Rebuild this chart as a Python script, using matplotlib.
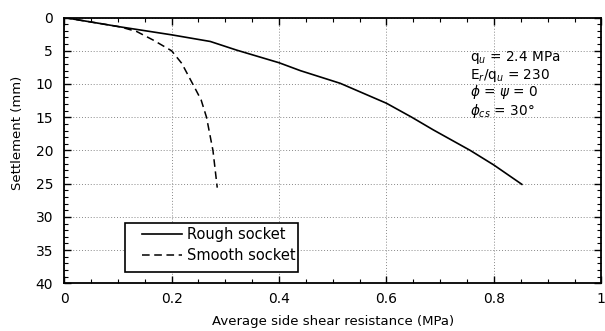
import matplotlib
matplotlib.use("Agg")
import matplotlib.pyplot as plt
from matplotlib.ticker import MultipleLocator
from matplotlib.patches import Rectangle

# Side shear resistance (MPa) vs settlement (mm)
rough_x = [0.0, 0.067, 0.104, 0.2, 0.272, 0.321, 0.4, 0.44, 0.514, 0.6, 0.647, 0.687, 0.756, 0.8, 0.852]
rough_y = [0.0, 0.9, 1.4, 2.6, 3.6, 4.9, 6.8, 8.0, 9.9, 12.9, 15.0, 16.9, 20.0, 22.2, 25.1]

smooth_x = [0.0, 0.067, 0.104, 0.135, 0.166, 0.2, 0.219, 0.244, 0.255, 0.265, 0.277, 0.285]
smooth_y = [0.0, 0.9, 1.4, 2.1, 3.4, 5.0, 6.9, 10.7, 12.4, 15.0, 20.0, 25.6]

x_ticks = [0, 0.2, 0.4, 0.6, 0.8, 1]
x_tick_labels = ["0", "0.2", "0.4", "0.6", "0.8", "1"]
y_ticks = [0, 5, 10, 15, 20, 25, 30, 35, 40]

params = [r"q$_{u}$ = 2.4 MPa", r"E$_{r}$/q$_{u}$ = 230", r"$\phi$ = $\psi$ = 0", r"$\phi_{cs}$ = 30°"]

plt.rcParams["font.family"] = ["DejaVu Sans"]
plt.rcParams["mathtext.fontset"] = "dejavusans"

fig = plt.figure(figsize=(6.05, 3.31), dpi=100)
ax = fig.add_axes([0.106, 0.144, 0.888, 0.803])

ax.plot(rough_x, rough_y, color="black", lw=1.2, label="Rough socket")
ax.plot(smooth_x, smooth_y, color="black", lw=1.1, ls=(0, (5, 3)), label="Smooth socket")

ax.set_xlim(0, 1)
ax.set_ylim(40, 0)
ax.set_xticks(x_ticks)
ax.set_xticklabels(x_tick_labels)
ax.set_yticks(y_ticks)
ax.xaxis.set_minor_locator(MultipleLocator(0.05))
ax.yaxis.set_minor_locator(MultipleLocator(1))
ax.tick_params(which="both", direction="in", top=True, right=True, labelsize=10, colors="black")
ax.tick_params(which="major", length=5, width=1)
ax.tick_params(which="minor", length=3, width=0.8)
ax.tick_params(axis="x", pad=6)
ax.tick_params(axis="y", pad=8)
for s in ax.spines.values():
    s.set_linewidth(1.3)

ax.grid(True, which="major", color="#888888", ls=(0, (1, 2)), lw=0.7)

ax.set_xlabel("Average side shear resistance (MPa)", fontsize=9.5, labelpad=7)
ax.set_ylabel("Settlement (mm)", fontsize=9.5)
ax.yaxis.set_label_coords(-0.074, 0.565)

ys = [0.848, 0.782, 0.718, 0.649]
for t, yy in zip(params, ys):
    ax.text(0.755, yy, t, transform=ax.transAxes, fontsize=9.8, va="center", ha="left")

# legend box
ax.add_patch(Rectangle((0.1135, 0.0425), 0.3215, 0.1845, transform=ax.transAxes,
                       facecolor="white", edgecolor="black", lw=1.2, zorder=3))
leg = ax.legend(loc="upper left", bbox_to_anchor=(0.1446, 0.212), fontsize=10.5,
                frameon=False, borderpad=0, borderaxespad=0,
                handlelength=2.75, handletextpad=0.35, labelspacing=0.44)
leg.set_zorder(4)

fig.savefig("out.png", dpi=100)
